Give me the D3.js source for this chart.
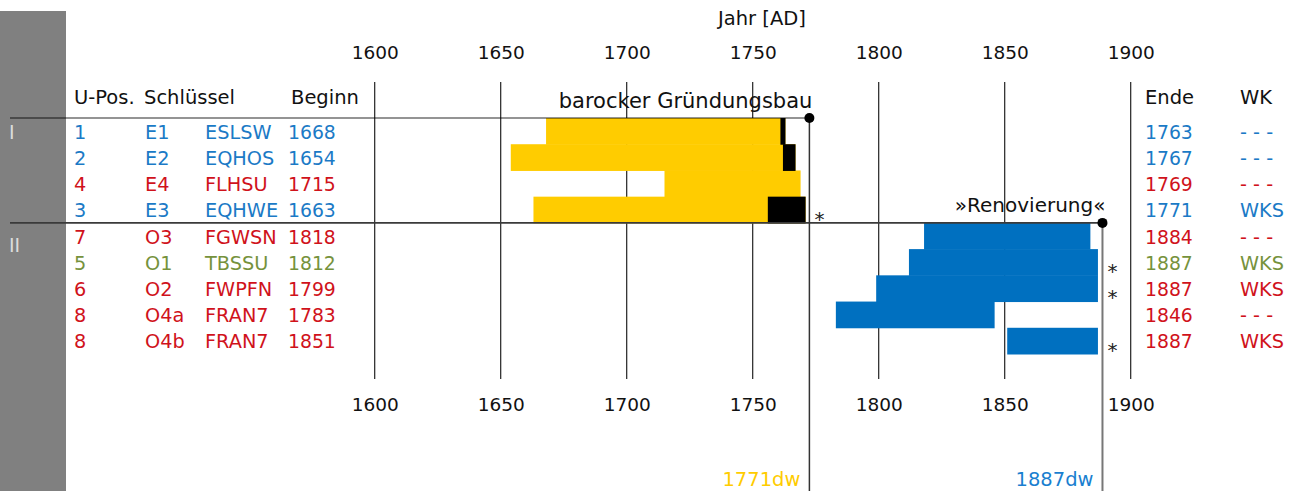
<!DOCTYPE html>
<html>
<head>
<meta charset="utf-8">
<script src="https://cdn.jsdelivr.net/npm/d3@7"></script>
<style>
  html, body { margin: 0; padding: 0; background: #fff; }
  svg { display: block; }
  text { font-family: "DejaVu Sans", sans-serif; }
</style>
</head>
<body>
<svg id="chart" width="1298" height="491"></svg>
<script>
// ---------------- data ----------------
const groups     = ["I", "II"];
const groupRows  = [0, 4];
const upos       = ["1", "2", "4", "3", "7", "5", "6", "8", "8"];
const keys       = ["E1", "E2", "E4", "E3", "O3", "O1", "O2", "O4a", "O4b"];
const codes      = ["ESLSW", "EQHOS", "FLHSU", "EQHWE", "FGWSN", "TBSSU", "FWPFN", "FRAN7", "FRAN7"];
const begins     = [1668, 1654, 1715, 1663, 1818, 1812, 1799, 1783, 1851];
const ends       = [1763, 1767, 1769, 1771, 1884, 1887, 1887, 1846, 1887];
const sapStart   = [1761, 1762, null, 1756, null, null, null, null, null];
const wk         = ["- - -", "- - -", "- - -", "WKS", "- - -", "WKS", "WKS", "- - -", "WKS"];
const rowClass   = ["blue", "blue", "red", "blue", "red", "green", "red", "red", "red"];
const rowPhase   = [0, 0, 0, 0, 1, 1, 1, 1, 1];
const phaseLabels     = ["barocker Gründungsbau", "»Renovierung«"];
const phaseDateLabels = ["1771dw", "1887dw"];
const phaseMarkerYear = [1772.5, 1888.8];
const phaseFirstRow   = [0, 4];
const tickYears  = [1600, 1650, 1700, 1750, 1800, 1850, 1900];
const headers    = ["U-Pos.", "Schlüssel", "Beginn", "Ende", "WK"];
const axisTitle  = "Jahr [AD]";

// ---------------- styles ----------------
const textColor  = { blue: "#1b7ac6", red: "#d0121b", green: "#76923c" };
const barColor   = ["#ffcc00", "#0070c0"];
const phaseTextColor = ["#ffcc00", "#1a7fd0"];

const svg = d3.select("#chart");
const x = d3.scaleLinear().domain([1600, 1900]).range([374.7, 1130.7]);
const rows = d3.range(keys.length);
const y = d3.scaleBand().domain(rows).range([118, 354]).padding(0);
const gridTop = 82, gridBottom = 379;

// grey side panel
svg.append("rect").attr("x", 0).attr("y", 11).attr("width", 66).attr("height", 480).attr("fill", "#808080");

// group numerals
svg.selectAll("text.grp").data(groups).join("text")
  .attr("class", "grp")
  .attr("x", 9).attr("y", (d, i) => y(groupRows[i]) + (i === 0 ? 21 : 29))
  .attr("fill", "#dcdcdc").attr("font-size", 19)
  .text(d => d);

// vertical grid lines
svg.selectAll("line.grid").data(tickYears).join("line")
  .attr("class", "grid")
  .attr("x1", d => x(d)).attr("x2", d => x(d))
  .attr("y1", gridTop).attr("y2", gridBottom)
  .attr("stroke", "#222").attr("stroke-width", 1.2);

// top axis
const topAxis = d3.axisTop(x).tickValues(tickYears).tickFormat(d3.format("d")).tickSize(0).tickPadding(0);
const gTop = svg.append("g").attr("transform", "translate(0,59)").call(topAxis);
gTop.select(".domain").remove();
gTop.selectAll("text").attr("font-size", 18.5).attr("fill", "#111").attr("font-family", "DejaVu Sans, sans-serif").attr("dy", 0);

// bottom axis
const botAxis = d3.axisBottom(x).tickValues(tickYears).tickFormat(d3.format("d")).tickSize(0).tickPadding(0);
const gBot = svg.append("g").attr("transform", "translate(0,411)").call(botAxis);
gBot.select(".domain").remove();
gBot.selectAll("text").attr("font-size", 18.5).attr("fill", "#111").attr("font-family", "DejaVu Sans, sans-serif").attr("dy", 0);

// axis title
svg.append("text").attr("x", 762).attr("y", 25).attr("text-anchor", "middle")
  .attr("font-size", 19.5).attr("fill", "#111").text(axisTitle);

// headers
const headerX = [74, 144, 291, 1145, 1240];
svg.selectAll("text.hdr").data(headers).join("text")
  .attr("class", "hdr")
  .attr("x", (d, i) => headerX[i]).attr("y", 104)
  .attr("font-size", 19.5).attr("fill", "#111").text(d => d);

// bars (heartwood / total)
svg.selectAll("rect.bar").data(rows).join("rect")
  .attr("class", "bar")
  .attr("x", i => x(begins[i]))
  .attr("y", i => y(i))
  .attr("width", i => x(ends[i]) - x(begins[i]))
  .attr("height", y.bandwidth() + 0.5)
  .attr("fill", i => barColor[rowPhase[i]]);

// sapwood segments
svg.selectAll("rect.sap").data(rows.filter(i => sapStart[i] !== null)).join("rect")
  .attr("class", "sap")
  .attr("x", i => x(sapStart[i]))
  .attr("y", i => y(i))
  .attr("width", i => x(ends[i]) - x(sapStart[i]))
  .attr("height", y.bandwidth() + 0.5)
  .attr("fill", "#000");

// phase separator lines
svg.append("line").attr("x1", 10).attr("x2", x(phaseMarkerYear[0]))
  .attr("y1", y(phaseFirstRow[0])).attr("y2", y(phaseFirstRow[0]))
  .attr("stroke", "#000").attr("stroke-opacity", 0.42).attr("stroke-width", 2);
svg.append("line").attr("x1", 10).attr("x2", x(phaseMarkerYear[1]))
  .attr("y1", y(phaseFirstRow[1])).attr("y2", y(phaseFirstRow[1]))
  .attr("stroke", "#3a3a3a").attr("stroke-width", 1.6);

// marker verticals
const markerStroke = ["#333", "#777"];
const markerWidth = [1.5, 2];
phaseLabels.forEach((lab, p) => {
  const mx = x(phaseMarkerYear[p]);
  const my = y(phaseFirstRow[p]);
  svg.append("line").attr("x1", mx).attr("x2", mx).attr("y1", my).attr("y2", 491)
    .attr("stroke", markerStroke[p]).attr("stroke-width", markerWidth[p]);
  svg.append("circle").attr("cx", mx).attr("cy", my).attr("r", 5).attr("fill", "#000");
  svg.append("text").attr("x", mx + 3).attr("y", p === 0 ? 108 : 212)
    .attr("text-anchor", "end").attr("font-size", p === 0 ? 21 : 20).attr("fill", "#111")
    .text(lab);
  svg.append("text").attr("x", mx - 9).attr("y", 486)
    .attr("text-anchor", "end").attr("font-size", 19.5).attr("fill", phaseTextColor[p])
    .text(phaseDateLabels[p]);
});

// asterisks for WKS
svg.selectAll("text.ast").data(rows.filter(i => wk[i] === "WKS")).join("text")
  .attr("class", "ast")
  .attr("x", i => x(phaseMarkerYear[rowPhase[i]]) + 10)
  .attr("y", i => y(i) + y.bandwidth() / 2 + 16)
  .attr("text-anchor", "middle").attr("font-size", 20).attr("fill", "#222")
  .text("*");

// row texts
const colX = [74, 145, 205, 288, 1145, 1240];
const colVals = [upos, keys, codes, begins, ends, wk];
colVals.forEach((arr, c) => {
  svg.selectAll("text.col" + c).data(rows).join("text")
    .attr("class", "col" + c)
    .attr("x", colX[c])
    .attr("y", i => y(i) + y.bandwidth() / 2 + 7.5)
    .attr("font-size", c === 3 || c === 4 ? 18.8 : 19.3)
    .attr("fill", i => textColor[rowClass[i]])
    .text(i => arr[i]);
});
</script>
</body>
</html>
